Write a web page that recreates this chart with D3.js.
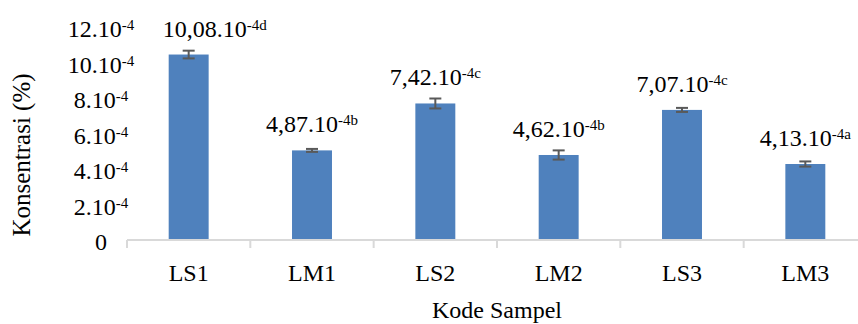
<!DOCTYPE html>
<html>
  <head>
    <meta http-equiv="Content-type" content="text/html; charset=utf-8">
    <title>Konsentrasi per Kode Sampel</title>
    <script src="https://d3js.org/d3.v7.min.js"></script>
    <style>
      body { margin: 0; background: #fff; }
      text { font-family: "Liberation Serif", "Times New Roman", serif; fill: #000; }
    </style>
  </head>
  <body>
    <div id="chart"></div>
    <script type="text/javascript">
      // all values in units of 10^-4 %
      var categories = ["LS1", "LM1", "LS2", "LM2", "LS3", "LM3"];
      var values = [10.08, 4.87, 7.42, 4.62, 7.07, 4.13];
      var errors = [0.21, 0.08, 0.27, 0.25, 0.11, 0.14];
      var letters = ["d", "b", "c", "b", "c", "a"];
      var tickValues = [0, 2, 4, 6, 8, 10, 12];

      var width = 858,
        height = 324,
        baseY = 240;

      var svg = d3.select("#chart").append("svg")
        .attr("width", width)
        .attr("height", height);

      var x = d3.scaleBand()
        .domain(categories)
        .range([127, 867])
        .paddingInner(0.676)
        .paddingOuter(0.338);

      var y = d3.scaleLinear()
        .domain([0, 12])
        .range([baseY, baseY - 12 * 18.4]);

      // tick labels in the original sit on their own spacing, not exactly on the bar scale
      var yLabel = d3.scaleLinear()
        .domain([0, 12])
        .range([250, 37]);

      var data = categories.map(function(c, i) {
        return { name: c, value: values[i], err: errors[i], letter: letters[i] };
      });

      // y tick labels like 12.10^-4
      var yt = svg.append("g").selectAll("text")
        .data(tickValues)
        .enter().append("text")
        .attr("x", 101)
        .attr("y", function(d) { return yLabel(d); })
        .attr("text-anchor", "middle")
        .style("font-size", "24px");
      yt.append("tspan").text(function(d) { return d === 0 ? "0" : d + ".10"; });
      yt.filter(function(d) { return d !== 0; })
        .append("tspan")
        .attr("dy", -7)
        .style("font-size", "15px")
        .text("-4");

      // bars
      svg.append("g").selectAll("rect")
        .data(data)
        .enter().append("rect")
        .attr("x", function(d) { return x(d.name); })
        .attr("y", function(d) { return y(d.value); })
        .attr("width", x.bandwidth())
        .attr("height", function(d) { return y(0) - y(d.value); })
        .style("fill", "#4f81bd");

      // error bars
      var eb = svg.append("g").selectAll("g")
        .data(data)
        .enter().append("g")
        .attr("transform", function(d) { return "translate(" + (x(d.name) + x.bandwidth() / 2) + ",0)"; })
        .style("stroke", "#595959")
        .style("stroke-width", 2);
      eb.append("line")
        .attr("y1", function(d) { return y(d.value + d.err); })
        .attr("y2", function(d) { return y(d.value - d.err); });
      eb.append("line")
        .attr("x1", -6).attr("x2", 6)
        .attr("y1", function(d) { return y(d.value + d.err); })
        .attr("y2", function(d) { return y(d.value + d.err); });
      eb.append("line")
        .attr("x1", -6).attr("x2", 6)
        .attr("y1", function(d) { return y(d.value - d.err); })
        .attr("y2", function(d) { return y(d.value - d.err); });

      // value labels, first one was nudged right in the original
      var vl = svg.append("g").selectAll("text")
        .data(data)
        .enter().append("text")
        .attr("x", function(d) { return x(d.name) + x.bandwidth() / 2; })
        .attr("dx", function(d, i) { return i === 0 ? 26 : 0; })
        .attr("y", function(d) { return y(d.value) - 18; })
        .attr("text-anchor", "middle")
        .style("font-size", "24px");
      vl.append("tspan").text(function(d) { return d.value.toFixed(2).replace(".", ",") + ".10"; });
      vl.append("tspan")
        .attr("dy", -7)
        .style("font-size", "15px")
        .text(function(d) { return "-4" + d.letter; });

      // x axis: line + ticks between categories
      var axis = svg.append("g").style("stroke", "#d9d9d9").style("stroke-width", 2);
      axis.append("line")
        .attr("x1", x.range()[0]).attr("x2", x.range()[1])
        .attr("y1", baseY).attr("y2", baseY);
      axis.selectAll(".tk")
        .data(d3.range(categories.length + 1))
        .enter().append("line")
        .attr("class", "tk")
        .attr("x1", function(i) { return x.range()[0] + i * x.step(); })
        .attr("x2", function(i) { return x.range()[0] + i * x.step(); })
        .attr("y1", baseY).attr("y2", baseY + 8);

      svg.append("g").selectAll("text")
        .data(categories)
        .enter().append("text")
        .attr("x", function(d) { return x(d) + x.bandwidth() / 2; })
        .attr("y", 281)
        .attr("text-anchor", "middle")
        .style("font-size", "24px")
        .text(function(d) { return d; });

      // axis titles
      svg.append("text")
        .attr("x", (x.range()[0] + x.range()[1]) / 2)
        .attr("y", 318)
        .attr("text-anchor", "middle")
        .style("font-size", "24px")
        .text("Kode Sampel");

      svg.append("text")
        .attr("transform", "translate(30,155) rotate(-90)")
        .attr("text-anchor", "middle")
        .style("font-size", "25px")
        .text("Konsentrasi (%)");
    </script>
  </body>
</html>
